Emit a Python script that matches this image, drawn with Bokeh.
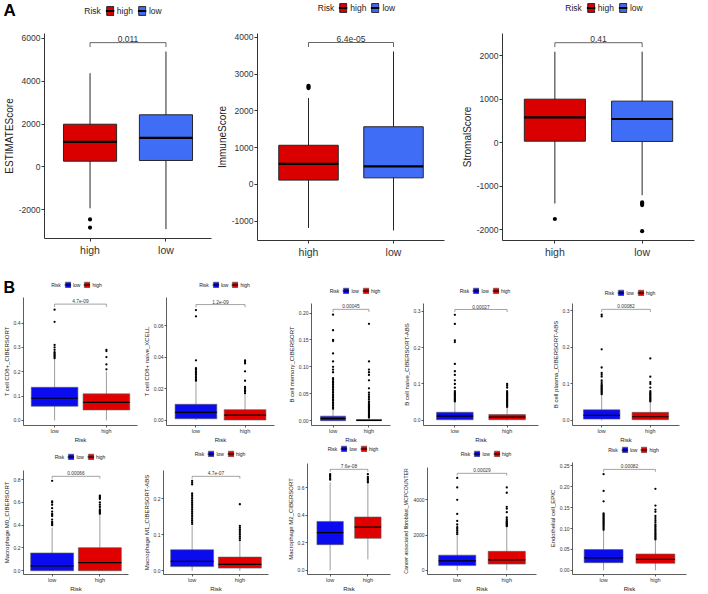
from bokeh.plotting import figure
from bokeh.layouts import row, column
from bokeh.models import Range1d, FixedTicker, Legend, LegendItem, Label
from bokeh.embed import file_html
from bokeh.resources import INLINE
from bokeh.core.properties import value

FONT = "Liberation Sans"

# ---------------- data ----------------
# five-number summaries: [lower whisker, Q1, median, Q3, upper whisker]
risk_a = ["high", "low"]
risk_b = ["low", "high"]
legend_title = "Risk"

estimate_high = [-1930, 266, 1170, 1990, 4370]
estimate_low = [-2900, 300, 1357, 2430, 5380]
estimate_high_out = [-2450, -2830]
estimate_low_out = []
estimate_ticks = ["-2000", "0", "2000", "4000", "6000"]
estimate_p = "0.011"

immune_high = [-1180, 119, 559, 1065, 2350]
immune_low = [-1250, 180, 490, 1568, 3614]
immune_high_out = [2620, 2650, 2680]
immune_low_out = []
immune_ticks = ["-1000", "0", "1000", "2000", "3000", "4000"]
immune_p = "6.4e-05"

stromal_high = [-1395, 36, 582, 1000, 2090]
stromal_low = [-1205, 30, 545, 955, 2090]
stromal_high_out = [-1750]
stromal_low_out = [-1370, -1400, -1430, -2030]
stromal_ticks = ["-2000", "-1000", "0", "1000", "2000"]
stromal_p = "0.41"

cd8_low = [0.0, 0.058, 0.091, 0.136, 0.250]
cd8_low_out = [0.255, 0.26, 0.265, 0.27, 0.275, 0.28, 0.29, 0.30, 0.31, 0.405, 0.455]
cd8_high = [0.0, 0.043, 0.074, 0.109, 0.200]
cd8_high_out = [0.21, 0.23, 0.26, 0.285, 0.29]
cd8_ticks = ["0.0", "0.1", "0.2", "0.3", "0.4"]
cd8_p = "4.7e-09"

naive_low = [0.0, 0.0008, 0.0049, 0.0100, 0.024]
naive_low_out = [0.025, 0.026, 0.027, 0.028, 0.029, 0.030, 0.031, 0.032, 0.033, 0.038, 0.066, 0.070]
naive_high = [0.0, 0.0, 0.0031, 0.0066, 0.016]
naive_high_out = [0.017, 0.018, 0.019, 0.020, 0.021, 0.025, 0.031, 0.036, 0.037, 0.038]
naive_ticks = ["0.00", "0.02", "0.04", "0.06"]
naive_p = "1.2e-09"

bmem_low = [0.0, 0.0, 0.004, 0.0084, 0.020]
bmem_low_out = [0.022, 0.025, 0.028, 0.031, 0.034, 0.037, 0.040, 0.043, 0.046, 0.049, 0.052, 0.055,
                0.058, 0.061, 0.064, 0.067, 0.070, 0.073, 0.076, 0.079, 0.090, 0.095, 0.100, 0.110,
                0.125, 0.148, 0.150, 0.168, 0.197]
bmem_high = [0.0, 0.0, 0.0005, 0.002, 0.005]
bmem_high_out = [0.006, 0.008, 0.010, 0.012, 0.014, 0.016, 0.018, 0.020, 0.022, 0.024, 0.026, 0.028,
                 0.030, 0.033, 0.036, 0.040, 0.044, 0.048, 0.052, 0.060, 0.075, 0.085, 0.090, 0.095,
                 0.110, 0.180]
bmem_ticks = ["0.00", "0.05", "0.10", "0.15", "0.20"]
bmem_p = "0.00045"

bnaive_low = [0.0, 0.0018, 0.0116, 0.0223, 0.050]
bnaive_low_out = [0.052, 0.055, 0.058, 0.061, 0.064, 0.067, 0.070, 0.073, 0.076, 0.080, 0.090, 0.100,
                  0.110, 0.125, 0.135, 0.155, 0.215, 0.220, 0.265, 0.290]
bnaive_high = [0.0, 0.0018, 0.009, 0.016, 0.035]
bnaive_high_out = [0.037, 0.040, 0.043, 0.046, 0.049, 0.052, 0.055, 0.058, 0.061, 0.064, 0.067, 0.070,
                   0.073, 0.076, 0.080, 0.090, 0.095, 0.100]
bnaive_ticks = ["0.0", "0.1", "0.2", "0.3"]
bnaive_p = "0.00027"

plasma_low = [0.0, 0.0036, 0.0136, 0.029, 0.070]
plasma_low_out = [0.072, 0.075, 0.078, 0.081, 0.084, 0.087, 0.090, 0.093, 0.096, 0.100, 0.105, 0.110,
                  0.120, 0.125, 0.130, 0.145, 0.195, 0.285, 0.290]
plasma_high = [0.0, 0.002, 0.010, 0.022, 0.050]
plasma_high_out = [0.052, 0.055, 0.058, 0.061, 0.064, 0.067, 0.070, 0.073, 0.076, 0.080, 0.090, 0.100,
                   0.105, 0.120, 0.170]
plasma_ticks = ["0.0", "0.1", "0.2", "0.3"]
plasma_p = "0.00082"

m0_low = [0.0, 0.0, 0.042, 0.156, 0.380]
m0_low_out = [0.40, 0.41, 0.42, 0.43, 0.45, 0.48, 0.49, 0.50, 0.52, 0.55, 0.58, 0.60, 0.61, 0.79]
m0_high = [0.0, 0.0, 0.072, 0.203, 0.490]
m0_high_out = [0.50, 0.51, 0.52, 0.53, 0.54, 0.56, 0.58, 0.60, 0.63, 0.64, 0.65, 0.66]
m0_ticks = ["0.0", "0.2", "0.4", "0.6", "0.8"]
m0_p = "0.00066"

m1_low = [0.0, 0.0119, 0.0264, 0.0587, 0.125]
m1_low_out = [0.130, 0.135, 0.140, 0.145, 0.150, 0.155, 0.160, 0.165, 0.170, 0.175, 0.180, 0.185,
              0.190, 0.195, 0.200, 0.205, 0.210, 0.215, 0.240, 0.245, 0.250]
m1_high = [0.0, 0.0077, 0.0179, 0.0383, 0.080]
m1_high_out = [0.085, 0.090, 0.095, 0.100, 0.105, 0.110, 0.115, 0.120, 0.125, 0.185]
m1_ticks = ["0.0", "0.1", "0.2"]
m1_p = "4.7e-07"

m2_low = [0.0, 0.187, 0.274, 0.356, 0.640]
m2_low_out = [0.66, 0.67, 0.68, 0.69, 0.70]
m2_high = [0.080, 0.233, 0.315, 0.388, 0.630]
m2_high_out = [0.64, 0.65, 0.66, 0.67, 0.68, 0.70]
m2_ticks = ["0.0", "0.2", "0.4", "0.6"]
m2_p = "7.6e-08"

caf_low = [0, 269, 538, 861, 1970]
caf_low_out = [2050, 2150, 2250, 2350, 2450, 2600, 2800, 3200, 4000, 4700, 5240]
caf_high = [0, 355, 592, 1077, 2420]
caf_high_out = [2500, 2550, 2600, 2650, 2700, 2750, 2800, 2900, 3000, 3300, 3500, 3600, 4400, 4700]
caf_ticks = ["0", "2000", "4000"]
caf_p = "0.00029"

endo_low = [0.0, 0.0183, 0.0298, 0.0497, 0.095]
endo_low_out = [0.097, 0.100, 0.103, 0.106, 0.109, 0.112, 0.115, 0.118, 0.121, 0.124, 0.127, 0.130,
                0.133, 0.136, 0.165, 0.190, 0.230]
endo_high = [0.0, 0.0168, 0.026, 0.039, 0.072]
endo_high_out = [0.074, 0.077, 0.080, 0.083, 0.086, 0.089, 0.092, 0.095, 0.098, 0.101, 0.104, 0.107,
                 0.110, 0.115, 0.120, 0.125, 0.130, 0.140, 0.145, 0.155, 0.195]
endo_ticks = ["0.00", "0.05", "0.10", "0.15", "0.20", "0.25"]
endo_p = "0.00082"

# ---------------- styles ----------------
COL_A = {"high": "#DA0000", "low": "#3F6DF5"}
COL_B = {"low": "#0B0BF0", "high": "#E10000"}

ST_A = dict(lw=1.0, line="#262626", mw=2.2, os=4.2, axis="#333333", alw=1.0, tick=3, std=1, xstd=2,
            ytick_fs="8.5px", xtick_fs="10.5px", lab_fs="10px", lab_std=1, xlab_std=0, p_fs="8.5px", p_px=8,
            leg_fs="8.5px", gw=9, gh=11, leg_sp=4, leg_std=3,
            text="#333333", blw=0.9, bracket="#555555", letter_fs="17px")
ST_B = dict(lw=0.6, line="#5a5a5a", mw=1.2, os=2.3, axis="#333333", alw=0.8, tick=2, std=1, xstd=0,
            ytick_fs="5px", xtick_fs="5.5px", lab_fs="6px", lab_std=1, xlab_std=0, p_fs="4.8px", p_px=5,
            leg_fs="5px", gw=7, gh=7, leg_sp=3, leg_std=2,
            text="#333333", blw=0.6, bracket="#666666", letter_fs="16px")


def legend_strip(width, height, bl, br, groups, colors, st, box_width, leg_top, letter=None):
    shift = st["gw"] + st["leg_std"]   # re-centre: the title item has an empty key slot
    lf = figure(width=width - (bl if letter else 0), height=height, output_backend="svg",
                toolbar_location=None, x_axis_type=None, y_axis_type=None,
                x_range=Range1d(1, 2), y_range=Range1d(1, 2),
                min_border_left=0 if letter else bl, min_border_right=br + shift,
                min_border_top=0, min_border_bottom=0)
    lf.outline_line_color = None
    lf.grid.visible = False
    blank = lf.scatter(x=[0], y=[0], size=1, fill_alpha=0, line_alpha=0)
    items = [LegendItem(label=legend_title, renderers=[blank])]
    for g in groups:
        # legend keys only (kept outside the visible range of this strip)
        b = lf.vbar(x=[0], width=box_width, bottom=[0], top=[0], fill_color=colors[g],
                    line_color=st["line"], line_width=st["lw"])
        m = lf.segment(x0=[0], y0=[0], x1=[0], y1=[0], line_color="black", line_width=st["mw"])
        items.append(LegendItem(label=g, renderers=[b, m]))
    leg = Legend(items=items, location="top_center", orientation="horizontal", margin=leg_top)
    leg.border_line_color = None
    leg.background_fill_alpha = 0
    leg.padding = 0
    leg.spacing = st["leg_sp"]
    leg.glyph_width = st["gw"]
    leg.glyph_height = st["gh"]
    leg.label_height = st["gh"]
    leg.label_width = 1
    leg.label_standoff = st["leg_std"]
    leg.label_text_font = FONT
    leg.label_text_font_size = st["leg_fs"]
    leg.label_text_color = "#222222"
    lf.add_layout(leg, "center")
    if not letter:
        return lf
    tf = figure(width=bl, height=height, output_backend="svg", toolbar_location=None,
                x_axis_type=None, y_axis_type=None, x_range=Range1d(0, 1), y_range=Range1d(0, 1),
                min_border_left=0, min_border_right=0, min_border_top=0, min_border_bottom=0)
    tf.outline_line_color = None
    tf.grid.visible = False
    tf.add_layout(Label(x=3, y=height, x_units="screen", y_units="screen", text=letter,
                        text_font=FONT, text_font_size=st["letter_fs"], text_font_style="bold",
                        text_baseline="top", text_align="left", text_color="black"))
    return row(tf, lf)


def panel(width, height, strip_h, borders, groups, boxes, outliers, colors, y_range, tick_labels,
          y_label, p_label, st, box_width, legend_top, x_label=None, letter=None, lab_fs=None):
    bl, br, bt, bb = borders
    ph = height - strip_h
    fh = ph - bt - bb
    lo_r, hi_r = y_range
    vals = [v for five in boxes for v in five] + [v for o in outliers for v in o]
    span = max(vals) - min(vals)
    top = max(vals) + 0.05 * span
    tip = top - 0.025 * span
    k = (st["p_px"] + 1) / fh
    hi_r = max(hi_r, (top - k * lo_r) / (1 - k))

    p = figure(width=width, height=ph, output_backend="svg", toolbar_location=None,
               x_range=Range1d(0.4, len(groups) + 0.6), y_range=Range1d(lo_r, hi_r),
               min_border_left=bl, min_border_right=br, min_border_top=bt, min_border_bottom=bb)
    p.outline_line_color = None
    p.grid.visible = False
    pos = list(range(1, len(groups) + 1))
    for x, g, five, outs in zip(pos, groups, boxes, outliers):
        lo, q1, med, q3, hi = five
        p.segment(x0=[x], y0=[lo], x1=[x], y1=[hi], line_color=st["line"], line_width=st["lw"])
        p.vbar(x=[x], width=box_width, bottom=[q1], top=[q3], fill_color=colors[g],
               line_color=st["line"], line_width=st["lw"])
        p.segment(x0=[x - box_width / 2], y0=[med], x1=[x + box_width / 2], y1=[med],
                  line_color="black", line_width=st["mw"])
        if outs:
            p.scatter(x=[x] * len(outs), y=outs, size=st["os"], fill_color="black", line_color=None)

    p.line(x=[pos[0], pos[0], pos[-1], pos[-1]], y=[tip, top, top, tip],
           line_color=st["bracket"], line_width=st["blw"])
    p.text(x=[(pos[0] + pos[-1]) / 2], y=[top], text=[p_label], text_align="center",
           text_baseline="bottom", text_font=value(FONT), text_font_size=st["p_fs"],
           text_color=st["text"], y_offset=-1)

    xa, ya = p.xaxis[0], p.yaxis[0]
    xa.ticker = FixedTicker(ticks=pos)
    xa.major_label_overrides = {x: g for x, g in zip(pos, groups)}
    ticks = [float(t) for t in tick_labels]
    ya.ticker = FixedTicker(ticks=ticks)
    ya.major_label_overrides = {t: l for t, l in zip(ticks, tick_labels)}
    for ax in (xa, ya):
        ax.axis_line_color = st["axis"]
        ax.axis_line_width = st["alw"]
        ax.major_tick_line_color = st["axis"]
        ax.major_tick_line_width = st["alw"]
        ax.major_tick_out = st["tick"]
        ax.major_tick_in = 0
        ax.minor_tick_line_color = None
        ax.major_label_text_font = FONT
        ax.major_label_text_color = st["text"]
        ax.axis_label_text_font = FONT
        ax.axis_label_text_font_style = "normal"
        ax.axis_label_text_font_size = st["lab_fs"]
        ax.axis_label_text_color = "#222222"
    if lab_fs:
        ya.axis_label_text_font_size = lab_fs
    ya.major_label_standoff = st["std"]
    xa.major_label_standoff = st["xstd"]
    ya.axis_label_standoff = st["lab_std"]
    xa.axis_label_standoff = st["xlab_std"]
    ya.major_label_text_font_size = st["ytick_fs"]
    xa.major_label_text_font_size = st["xtick_fs"]
    ya.axis_label = y_label
    if x_label:
        xa.axis_label = x_label

    strip = legend_strip(width, strip_h, bl, br, groups, colors, st, box_width, legend_top, letter)
    return column(strip, p)


A1 = panel(212, 278, 20, (35, 1, 13, 40), risk_a, [estimate_high, estimate_low],
           [estimate_high_out, estimate_low_out], COL_A, (-3338, 6220), estimate_ticks,
           "ESTIMATEScore", estimate_p, ST_A, 0.7, 5, letter="A")
A2 = panel(246, 278, 20, (45, 2, 13, 38), risk_a, [immune_high, immune_low],
           [immune_high_out, immune_low_out], COL_A, (-1522, 4100), immune_ticks,
           "ImmuneScore", immune_p, ST_A, 0.7, 2)
A3 = panel(250, 278, 20, (42, 2, 13, 38), risk_a, [stromal_high, stromal_low],
           [stromal_high_out, stromal_low_out], COL_A, (-2243, 2507), stromal_ticks,
           "StromalScore", stromal_p, ST_A, 0.7, 2)

B1 = panel(140, 167, 18, (16, 3, 1, 17), risk_b, [cd8_low, cd8_high], [cd8_low_out, cd8_high_out],
           COL_B, (-0.021, 0.505), cd8_ticks, "T cell CD8+_CIBERSORT", cd8_p, ST_B, 0.9, 3,
           x_label="Risk", letter="B")
B2 = panel(145, 167, 18, (19, 2, 1, 17), risk_b, [naive_low, naive_high], [naive_low_out, naive_high_out],
           COL_B, (-0.0035, 0.078), naive_ticks, "T cell CD8+ naive_XCELL", naive_p, ST_B, 0.85, 3,
           x_label="Risk")
B3 = panel(115, 167, 18, (14, 1, 7, 17), risk_b, [bmem_low, bmem_high], [bmem_low_out, bmem_high_out],
           COL_B, (-0.009, 0.2166), bmem_ticks, "B cell memory_CIBERSORT", bmem_p, ST_B, 0.7, 9,
           x_label="Risk")
B4 = panel(149, 167, 18, (19, 2, 7, 17), risk_b, [bnaive_low, bnaive_high], [bnaive_low_out, bnaive_high_out],
           COL_B, (-0.014, 0.321), bnaive_ticks, "B cell naive_CIBERSORT-ABS", bnaive_p, ST_B, 0.7, 9,
           x_label="Risk")
B5 = panel(159, 167, 18, (15, 20, 7, 17), risk_b, [plasma_low, plasma_high], [plasma_low_out, plasma_high_out],
           COL_B, (-0.014, 0.32), plasma_ticks, "B cell plasma_CIBERSORT-ABS", plasma_p, ST_B, 0.75, 11,
           x_label="Risk")

C1 = panel(140, 149, 16, (16, 3, 9, 17), risk_b, [m0_low, m0_high], [m0_low_out, m0_high_out],
           COL_B, (-0.033, 0.856), m0_ticks, "Macrophage M0_CIBERSORT", m0_p, ST_B, 0.9, 8,
           x_label="Risk")
C2 = panel(144, 149, 16, (17, 7, 9, 17), risk_b, [m1_low, m1_high], [m1_low_out, m1_high_out],
           COL_B, (-0.010, 0.266), m1_ticks, "Macrophage M1_CIBERSORT-ABS", m1_p, ST_B, 0.9, 5,
           x_label="Risk")
C3 = panel(116, 149, 16, (11, 1, 2, 17), risk_b, [m2_low, m2_high], [m2_low_out, m2_high_out],
           COL_B, (-0.030, 0.755), m2_ticks, "Macrophage M2_CIBERSORT", m2_p, ST_B, 0.7, 0,
           x_label="Risk")
C4 = panel(146, 149, 16, (20, 1, 6, 17), risk_b, [caf_low, caf_high], [caf_low_out, caf_high_out],
           COL_B, (-237, 5739), caf_ticks, "Cancer associated fibroblast_MCPCOUNTER", caf_p, ST_B, 0.75, 5,
           x_label="Risk", lab_fs="5.2px")
C5 = panel(162, 149, 16, (26, 13, 1, 17), risk_b, [endo_low, endo_high], [endo_low_out, endo_high_out],
           COL_B, (-0.010, 0.258), endo_ticks, "Endothelial cell_EPIC", endo_p, ST_B, 0.75, 1,
           x_label="Risk")

layout = column(row(A1, A2, A3), row(B1, B2, B3, B4, B5), row(C1, C2, C3, C4, C5))
open("out.html", "w").write(file_html(layout, INLINE))
